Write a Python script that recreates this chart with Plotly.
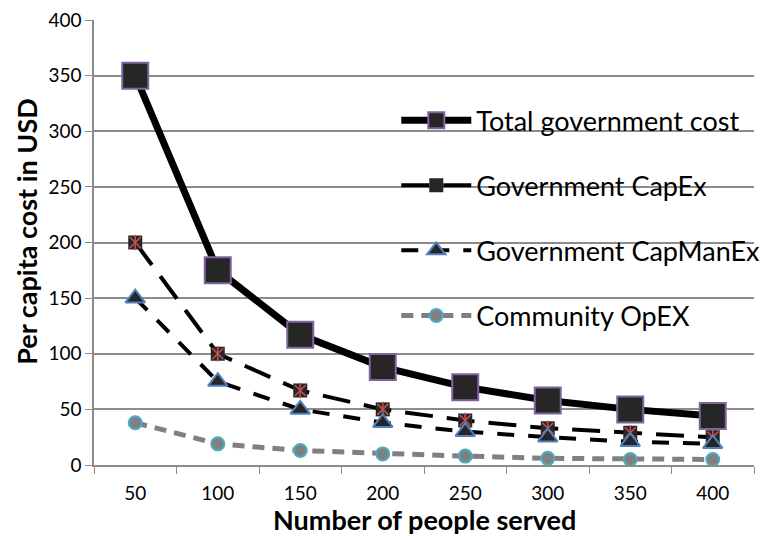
import plotly.graph_objects as go

people = ["50", "100", "150", "200", "250", "300", "350", "400"]
total_cost = [350, 175, 117, 88, 70, 58, 50, 44]
capex = [200, 100, 67, 50, 40, 33, 29, 25]
capmanex = [150, 75, 50, 38, 30, 25, 21, 19]
community_opex = [38, 19, 13, 10, 8, 6, 5, 5]

FONT = "Lato"
RED = "#C0504D"
fig = go.Figure()

fig.add_trace(go.Scatter(
    x=people, y=total_cost, name="Total government cost", mode="lines+markers",
    legendgroup="a",
    line=dict(color="black", width=7),
    marker=dict(symbol="square", size=26, color="#262626", line=dict(color="#8064A2", width=2)),
))
fig.add_trace(go.Scatter(
    x=people, y=capex, name="Government CapEx", mode="lines+markers",
    legendgroup="b",
    line=dict(color="black", width=4, dash="28px,14px"),
    marker=dict(symbol="square", size=14, color="#262626", line=dict(width=0)),
))
for sym in ["x-thin-open", "line-ns-open"]:
    fig.add_trace(go.Scatter(
        x=people, y=capex, mode="markers", showlegend=False, legendgroup="b",
        marker=dict(symbol=sym, size=11, color=RED, line=dict(color=RED, width=1.6)),
        hoverinfo="skip",
    ))
fig.add_trace(go.Scatter(
    x=people, y=capmanex, name="Government CapManEx", mode="lines+markers",
    legendgroup="c",
    line=dict(color="black", width=4, dash="17px,14px"),
    marker=dict(symbol="triangle-up", size=17, color="#262626", line=dict(color="#4F81BD", width=2)),
))
fig.add_trace(go.Scatter(
    x=people, y=community_opex, name="Community OpEX", mode="lines+markers",
    legendgroup="d",
    line=dict(color="#808080", width=5, dash="12px,8px"),
    marker=dict(symbol="circle", size=13, color="#808080", line=dict(color="#4BACC6", width=2)),
))

fig.update_layout(
    width=765, height=536,
    margin=dict(l=94, r=11, t=20, b=71, autoexpand=False),
    paper_bgcolor="white", plot_bgcolor="white",
    font=dict(family=FONT, size=19, color="black"),
    showlegend=True,
    legend=dict(
        x=0.458, y=0.829, xanchor="left", yanchor="top",
        bgcolor="rgba(0,0,0,0)", font=dict(family=FONT, size=27),
        traceorder="grouped", tracegroupgap=27, itemwidth=70,
    ),
    xaxis=dict(
        type="category", range=[-0.5, 7.5], showgrid=False, showline=True,
        linecolor="#8c8c8c", linewidth=1.5,
        ticks="outside", ticklen=7, tickcolor="#8c8c8c", tickson="boundaries",
        ticklabelstandoff=10, tickfont=dict(family=FONT, size=19), automargin=False,
    ),
    yaxis=dict(
        range=[0, 400], dtick=50, showgrid=True, gridcolor="#8c8c8c", gridwidth=1.5,
        showline=True, linecolor="#8c8c8c", linewidth=1.5, zeroline=False,
        ticks="outside", ticklen=7, tickcolor="#8c8c8c",
        tickfont=dict(family=FONT, size=19), automargin=False,
    ),
    annotations=[
        dict(text="<b>Per capita cost in USD</b>", textangle=-90, xref="paper", yref="paper",
             x=(27 - 94) / 660, y=0.524, xanchor="center", yanchor="middle", showarrow=False,
             font=dict(family=FONT, size=27)),
        dict(text="<b>Number of people served</b>", xref="paper", yref="paper",
             x=0.5, y=-(519 - 465) / 445, xanchor="center", yanchor="middle", showarrow=False,
             font=dict(family=FONT, size=27)),
    ],
)

fig.write_html("out.html", config={"displayModeBar": False},
               post_script="document.body.style.margin='0px';")
